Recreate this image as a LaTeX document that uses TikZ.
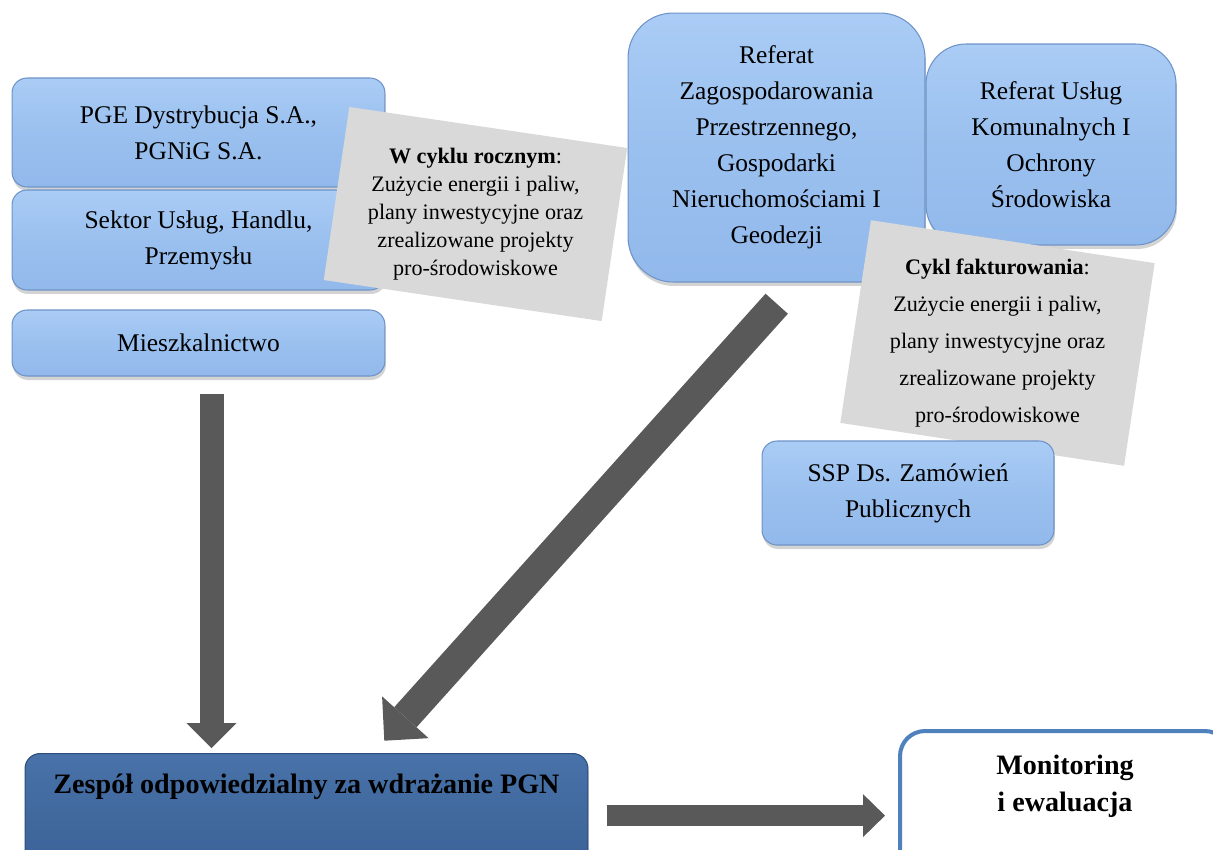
\documentclass[tikz,border=0pt]{standalone}
\usepackage{fontspec}
\setmainfont{Liberation Serif}
\usetikzlibrary{arrows.meta,positioning,shadows}
\definecolor{boxtop}{HTML}{AACCF5}
\definecolor{boxmid}{HTML}{9AC0EF}
\definecolor{boxbot}{HTML}{92B9EB}
\definecolor{boxline}{HTML}{6E93C8}
\definecolor{teamtop}{HTML}{4872A9}
\definecolor{teammid}{HTML}{41699E}
\definecolor{teambot}{HTML}{3A6298}
\definecolor{teamline}{HTML}{2C4D7C}
\definecolor{notefill}{HTML}{D9D9D9}
\definecolor{arrowgray}{HTML}{595959}
\definecolor{monline}{HTML}{4F81BD}
\tikzset{
  unitbox/.style={draw=boxline, line width=0.6pt, top color=boxtop, bottom color=boxbot, middle color=boxmid, rounded corners=0.3cm, align=center, font=\fontsize{14.5}{20.5}\selectfont, drop shadow={shadow xshift=0.02cm, shadow yshift=-0.08cm, opacity=0.35}},
  teambox/.style={draw=teamline, line width=0.6pt, top color=teamtop, bottom color=teambot, middle color=teammid, rounded corners=0.3cm, font=\bfseries\fontsize{16}{20}\selectfont, drop shadow={shadow xshift=0.02cm, shadow yshift=-0.08cm, opacity=0.35}},
  monbox/.style={draw=monline, line width=2.3pt, fill=white, rounded corners=0.5cm},
  montext/.style={align=center, font=\bfseries\fontsize{16}{21}\selectfont},
  notebox/.style={fill=notefill, inner sep=0pt},
  notetext/.style={align=center, font=\fontsize{12.6}{15.9}\selectfont},
  blockarrow/.style={draw=arrowgray, line cap=butt}
}
\begin{document}
\begin{tikzpicture}[x=0.02cm, y=-0.02cm]
\clip (0,0) rectangle (1213,849);
% data sources
\node[unitbox, minimum width=7.46cm, minimum height=2.18cm] (pge) at (198.5,132.5) {PGE Dystrybucja S.A.,\\PGNiG S.A.};
\node[unitbox, minimum width=7.46cm, minimum height=2.0cm] (sektor) at (198.5,240) {Sektor Usług, Handlu,\\Przemysłu};
\node[unitbox, minimum width=7.46cm, minimum height=1.32cm] (mieszk) at (198.5,343) {Mieszkalnictwo};
\node[notebox, rotate=-8.4, minimum width=5.62cm, minimum height=3.5cm] (roczny) at (475.5,214) {};
\node[notetext] (roczny text) at (roczny) {\textbf{W cyklu rocznym}:\\Zużycie energii i paliw,\\plany inwestycyjne oraz\\zrealizowane projekty\\pro-środowiskowe};
% municipal departments
\node[unitbox, rounded corners=0.9cm, minimum width=5.94cm, minimum height=5.38cm] (zagosp) at (776.5,147.5) {Referat\\Zagospodarowania\\Przestrzennego,\\Gospodarki\\Nieruchomościami I\\Geodezji};
\node[unitbox, rounded corners=0.8cm, minimum width=5.0cm, minimum height=4.02cm] (komunal) at (1051,144.5) {Referat Usług\\Komunalnych I\\Ochrony\\Środowiska};
\node[notebox, rotate=-8.6, minimum width=5.74cm, minimum height=4.1cm] (faktura) at (997.5,343) {};
\node[notetext, font=\fontsize{12.6}{21}\selectfont] (faktura text) at (faktura) {\textbf{Cykl fakturowania}:\\Zużycie energii i paliw,\\plany inwestycyjne oraz\\zrealizowane projekty\\pro-środowiskowe};
\node[unitbox, minimum width=5.84cm, minimum height=2.08cm] (ssp) at (908,493) {SSP Ds. Zamówień\\Publicznych};
% team and monitoring
\node[teambox, anchor=north, minimum width=11.26cm, text height=0.6cm, text depth=1.5cm, inner ysep=0.2cm] (zespol) at (306.5,753) {Zespół odpowiedzialny za wdrażanie PGN};
\node[monbox, anchor=north west, minimum width=6.6cm, minimum height=3cm] (monit) at (898,729) {};
\node[montext, below=0.4cm of monit.north] (monit text) {Monitoring\\i ewaluacja};
% flows
\coordinate (v1) at (211.5,394);
\coordinate (v2) at (211.5,748);
\coordinate (d1) at (776.7,303.7);
\coordinate (d2) at (384.3,740.7);
\coordinate (h1) at (606.7,815.6);
\coordinate (h2) at (885,815.6);
\draw[blockarrow, line width=0.48cm, -{Triangle[length=0.5cm, width=1.0cm, line width=0pt]}] (v1) -- (v2);
\draw[blockarrow, line width=0.6cm, -{Triangle[length=0.63cm, width=1.25cm, line width=0pt]}] (d1) -- (d2);
\draw[blockarrow, line width=0.42cm, -{Triangle[length=0.44cm, width=0.86cm, line width=0pt]}] (h1) -- (h2);
\end{tikzpicture}
\end{document}
